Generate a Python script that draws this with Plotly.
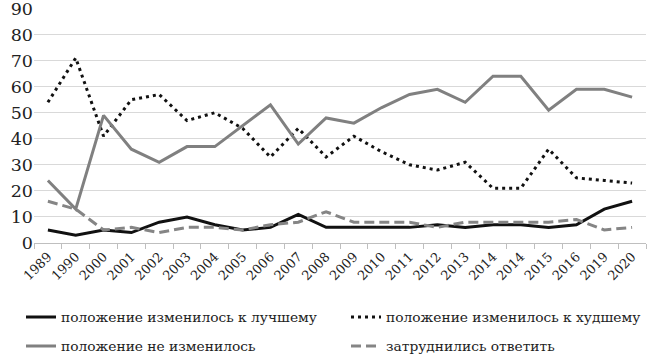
import plotly.graph_objects as go

years = ["1989", "1990", "2000", "2001", "2002", "2003", "2004", "2005", "2006", "2007",
         "2008", "2009", "2010", "2011", "2012", "2013", "2014", "2014", "2015", "2016",
         "2019", "2020"]
better = [5, 3, 5, 4, 8, 10, 7, 5, 6, 11, 6, 6, 6, 6, 7, 6, 7, 7, 6, 7, 13, 16]
worse = [54, 71, 41, 55, 57, 47, 50, 44, 33, 44, 33, 41, 35, 30, 28, 31, 21, 21, 36, 25, 24, 23]
unchanged = [24, 13, 49, 36, 31, 37, 37, 45, 53, 38, 48, 46, 52, 57, 59, 54, 64, 64, 51, 59, 59, 56]
hard = [16, 13, 5, 6, 4, 6, 6, 5, 7, 8, 12, 8, 8, 8, 6, 8, 8, 8, 8, 9, 5, 6]
y_ticks = [0, 10, 20, 30, 40, 50, 60, 70, 80, 90]

names = ["положение изменилось к лучшему", "положение изменилось к худшему",
         "положение не изменилось", "затруднились ответить"]

x = list(range(len(years)))
legend_ids = ["legend", "legend2", "legend3", "legend4"]

fig = go.Figure()
fig.add_trace(go.Scatter(x=x, y=better, mode="lines", name=names[0], legend=legend_ids[0],
                         line=dict(color="#111111", width=3)))
fig.add_trace(go.Scatter(x=x, y=worse, mode="lines", name=names[1], legend=legend_ids[1],
                         line=dict(color="#111111", width=3, dash="3px,4px")))
fig.add_trace(go.Scatter(x=x, y=unchanged, mode="lines", name=names[2], legend=legend_ids[2],
                         line=dict(color="#808080", width=3)))
fig.add_trace(go.Scatter(x=x, y=hard, mode="lines", name=names[3], legend=legend_ids[3],
                         line=dict(color="#858585", width=3, dash="10px,5px")))

font = "DejaVu Serif"
legfont = dict(family=font, size=13.8, color="#222222")


def leg(xpx, ypx):
    return dict(orientation="h", x=xpx / 650, y=1 - ypx / 355, xref="container", yref="container",
                xanchor="left", yanchor="middle", font=legfont, itemwidth=30,
                bgcolor="rgba(0,0,0,0)", borderwidth=0)


fig.update_layout(
    width=650, height=355,
    margin=dict(l=34, r=4, t=8, b=112, autoexpand=False),
    plot_bgcolor="white", paper_bgcolor="white",
    font=dict(family=font, size=15, color="#222222"),
    showlegend=True,
    legend=leg(21, 317),
    legend2=leg(346, 317),
    legend3=leg(21, 346),
    legend4=leg(346, 346),
)
fig.update_xaxes(
    range=[-0.5, len(years) - 0.5],
    tickmode="array", tickvals=x, ticktext=years, tickangle=-45,
    ticks="", showgrid=False, showline=True, linecolor="#bfbfbf", linewidth=1,
    tickfont=dict(family=font, size=13, color="#222222"),
    minor=dict(tick0=-0.5, dtick=1, ticks="outside", ticklen=5, tickcolor="#bfbfbf", showgrid=False),
    zeroline=False,
)
fig.update_yaxes(
    range=[0, 90.2], tickmode="array", tickvals=y_ticks,
    showgrid=True, gridcolor="#d9d9d9", gridwidth=1,
    zeroline=False, showline=False, ticks="", ticklabeloverflow="allow",
    tickfont=dict(family=font, size=17.5, color="#222222"),
)

fig.write_html(
    "out.html",
    config={"displayModeBar": False},
    post_script="document.body.style.margin='0';document.body.style.padding='0';",
)
